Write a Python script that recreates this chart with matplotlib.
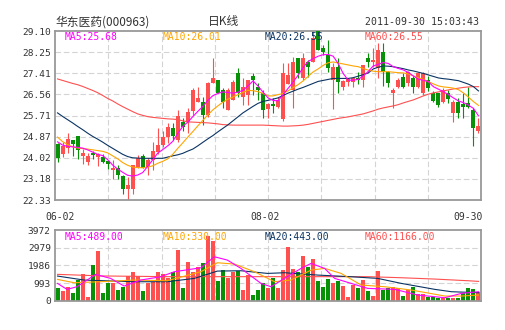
import matplotlib
matplotlib.use("Agg")
import matplotlib.pyplot as plt
import numpy as np

# daily candles 2011-06-02 .. 2011-09-30
opens = [24.59, 24.19, 24.42, 24.73, 24.89, 24.09, 23.86, 24.23, 24.06, 24.06,
         23.90, 23.53, 23.62, 23.30, 22.76, 22.76, 23.66, 24.09, 23.66, 23.93,
         24.26, 24.53, 24.86, 25.22, 24.73, 25.46, 25.46, 25.90, 26.27, 26.27,
         25.73, 27.00, 27.13, 26.73, 25.93, 26.33, 27.40, 26.47, 26.53, 27.31,
         26.84, 26.60, 25.97, 26.17, 26.04, 25.56, 26.97, 26.73, 28.00, 27.20,
         27.87, 27.87, 29.10, 28.40, 28.14, 27.13, 27.64, 26.87, 27.07, 27.07,
         27.20, 27.13, 28.00, 27.87, 27.60, 28.27, 27.47, 26.60, 26.87, 27.27,
         27.00, 27.20, 26.87, 26.60, 27.14, 26.60, 26.60, 26.27, 26.60, 25.80,
         26.27, 26.17, 26.20, 25.93, 25.09]
highs = [24.62, 24.66, 25.00, 24.73, 24.89, 24.39, 24.22, 24.28, 24.22, 24.17,
         23.95, 23.93, 23.72, 23.35, 23.26, 23.75, 24.12, 24.19, 24.00, 24.66,
         25.20, 25.10, 25.40, 25.40, 25.93, 25.60, 26.00, 26.80, 26.87, 26.47,
         27.07, 28.00, 27.13, 26.80, 26.80, 27.13, 27.60, 27.20, 27.13, 27.40,
         27.00, 26.73, 26.20, 26.40, 26.47, 27.80, 27.80, 28.07, 28.00, 28.20,
         27.94, 29.10, 29.10, 28.54, 28.74, 27.80, 28.00, 27.13, 27.20, 27.27,
         27.47, 27.74, 28.20, 28.40, 28.60, 28.60, 27.50, 26.80, 27.20, 27.40,
         27.50, 27.30, 27.45, 27.45, 27.30, 26.70, 26.60, 26.80, 26.75, 26.33,
         26.40, 26.60, 26.87, 26.00, 25.60]
lows = [23.86, 24.06, 24.22, 24.09, 23.99, 23.79, 23.73, 23.99, 23.68, 23.83,
        23.59, 23.19, 23.19, 22.59, 22.33, 22.59, 23.60, 23.60, 23.32, 23.53,
        24.19, 24.45, 24.60, 24.73, 24.66, 25.10, 25.00, 25.73, 26.27, 25.33,
        25.67, 27.00, 26.60, 26.00, 25.93, 26.33, 26.47, 26.13, 26.13, 26.53,
        26.33, 25.60, 25.60, 25.80, 26.00, 25.50, 26.97, 26.00, 27.20, 27.13,
        27.27, 27.87, 28.34, 28.14, 27.47, 25.97, 26.60, 26.73, 26.90, 26.87,
        26.97, 26.87, 27.67, 27.67, 27.20, 26.90, 26.87, 26.00, 26.80, 26.80,
        26.90, 26.60, 26.80, 26.55, 26.70, 26.27, 26.07, 26.20, 26.20, 25.47,
        25.61, 25.60, 26.00, 24.49, 25.00]
closes = [24.02, 24.49, 24.77, 24.57, 24.35, 24.22, 24.09, 24.15, 24.17, 23.86,
          23.79, 23.62, 23.32, 22.76, 22.95, 23.72, 24.02, 23.62, 23.93, 24.30,
          24.55, 24.86, 25.24, 24.89, 25.69, 25.26, 25.86, 26.73, 26.40, 25.73,
          27.00, 27.20, 26.60, 26.27, 26.73, 27.07, 26.60, 26.87, 27.13, 27.13,
          26.73, 25.93, 26.17, 26.09, 26.33, 27.40, 27.33, 27.87, 27.40, 28.00,
          27.64, 28.80, 28.34, 28.27, 27.60, 27.67, 27.07, 27.10, 27.17, 27.20,
          27.13, 27.74, 27.87, 27.94, 28.34, 27.47, 27.00, 26.74, 27.14, 26.87,
          27.47, 26.85, 27.40, 27.40, 26.82, 26.30, 26.13, 26.74, 26.38, 26.27,
          25.83, 26.06, 26.06, 25.20, 25.29]
volumes = [700, 550, 760, 430, 1160, 1510, 210, 2000, 2790, 430,
           1000, 1000, 600, 790, 1360, 1630, 1380, 550, 1020, 1050,
           1630, 1510, 1300, 1630, 2850, 710, 2190, 1640, 1900, 2130,
           3650, 3370, 1110, 1710, 1290, 1610, 1670, 610, 1450, 330,
           610, 1010, 730, 1270, 700, 1700, 3010, 1800, 1590, 2520,
           1890, 2340, 1100, 770, 1220, 1000, 1100, 800, 200, 860,
           710, 1160, 540, 280, 1660, 600, 730, 750, 710, 260,
           580, 790, 370, 390, 200, 200, 170, 150, 150, 170,
           150, 430, 710, 650, 470]

ma5 = [24.66, 24.53, 24.48, 24.46, 24.44, 24.41, 24.34, 24.25, 24.16, 24.11,
       23.95, 23.73, 23.57, 23.44, 23.32, 23.29, 23.33, 23.43, 23.68, 23.94,
       24.21, 24.35, 24.50, 24.68, 25.00, 25.28, 25.45, 25.67, 25.88, 26.08,
       26.32, 26.51, 26.60, 26.66, 26.64, 26.61, 26.65, 26.72, 26.90, 27.10,
       26.90, 26.65, 26.42, 26.32, 26.30, 26.55, 26.80, 27.05, 27.33, 27.63,
       27.88, 27.99, 28.09, 28.15, 28.16, 28.09, 27.80, 27.40, 27.13, 27.13,
       27.16, 27.30, 27.48, 27.70, 27.76, 27.84, 27.80, 27.67, 27.60, 27.54,
       27.44, 27.30, 27.17, 27.13, 27.07, 26.87, 26.77, 26.67, 26.55, 26.42,
       26.30, 26.23, 26.13, 26.00, 25.70]
ma10 = [24.85, 24.67, 24.55, 24.46, 24.41, 24.39, 24.37, 24.34, 24.31, 24.28,
        24.22, 24.10, 23.98, 23.83, 23.72, 23.65, 23.63, 23.62, 23.65, 23.70,
        23.80, 23.88, 23.98, 24.16, 24.40, 24.62, 24.85, 25.07, 25.30, 25.52,
        25.74, 25.94, 26.10, 26.25, 26.37, 26.45, 26.55, 26.64, 26.72, 26.71,
        26.67, 26.60, 26.50, 26.50, 26.55, 26.60, 26.70, 26.83, 26.95, 27.10,
        27.28, 27.46, 27.58, 27.72, 27.83, 27.86, 27.82, 27.78, 27.74, 27.70,
        27.67, 27.60, 27.53, 27.49, 27.47, 27.47, 27.47, 27.45, 27.43, 27.42,
        27.38, 27.30, 27.23, 27.16, 27.07, 26.98, 26.90, 26.86, 26.84, 26.81,
        26.75, 26.62, 26.45, 26.27, 26.12]
ma20 = [25.82, 25.68, 25.55, 25.42, 25.28, 25.15, 25.01, 24.88, 24.77, 24.65,
        24.52, 24.40, 24.28, 24.16, 24.07, 24.02, 24.01, 24.00, 24.00, 24.00,
        24.00, 24.00, 24.05, 24.10, 24.14, 24.20, 24.29, 24.37, 24.50, 24.64,
        24.78, 24.91, 25.06, 25.20, 25.34, 25.50, 25.66, 25.82, 25.95, 26.08,
        26.20, 26.28, 26.32, 26.37, 26.42, 26.52, 26.61, 26.69, 26.77, 26.84,
        26.92, 27.00, 27.08, 27.12, 27.16, 27.20, 27.20, 27.20, 27.20, 27.23,
        27.29, 27.35, 27.42, 27.58, 27.65, 27.70, 27.69, 27.67, 27.63, 27.59,
        27.54, 27.50, 27.45, 27.40, 27.34, 27.28, 27.22, 27.19, 27.17, 27.14,
        27.11, 27.04, 26.97, 26.87, 26.70]
ma60 = [27.18, 27.12, 27.06, 27.00, 26.95, 26.88, 26.80, 26.72, 26.63, 26.52,
        26.40, 26.30, 26.18, 26.07, 25.97, 25.87, 25.78, 25.72, 25.67, 25.64,
        25.62, 25.60, 25.58, 25.57, 25.55, 25.50, 25.46, 25.45, 25.44, 25.43,
        25.42, 25.40, 25.38, 25.35, 25.34, 25.33, 25.33, 25.33, 25.33, 25.33,
        25.33, 25.33, 25.32, 25.31, 25.30, 25.29, 25.29, 25.30, 25.31, 25.33,
        25.36, 25.40, 25.44, 25.48, 25.52, 25.56, 25.60, 25.63, 25.66, 25.70,
        25.74, 25.78, 25.84, 25.90, 25.97, 26.02, 26.06, 26.10, 26.15, 26.22,
        26.28, 26.34, 26.42, 26.50, 26.57, 26.62, 26.66, 26.70, 26.74, 26.78,
        26.81, 26.84, 26.86, 26.87, 26.87]

# volume moving averages, read at (candle index, value) points
vma5_x = [0, 1.9, 3.9, 7.6, 10.6, 13.3, 16.6, 20.6, 23.3, 28.6, 31.3, 33.9, 36.6, 40.6,
          42.6, 45.3, 48.6, 50.6, 53.3, 55.3, 58.6, 61.9, 67.3, 71.9, 77.3, 80.6, 84]
vma5_y = [972, 636, 785, 1477, 1253, 823, 1160, 1346, 1627, 1851, 2468, 2281, 1814, 972,
          785, 1253, 1814, 2094, 1814, 1253, 972, 692, 636, 318, 168, 411, 505]
vma10_x = [0, 3.3, 8.6, 15.3, 21.9, 28.6, 31.9, 35.3, 39.3, 43.3, 46.6, 50.6, 53.3, 56.6,
           60.6, 65.3, 70.6, 77.3, 80.6, 84]
vma10_y = [1197, 1010, 1066, 1160, 1122, 1627, 2132, 2057, 1627, 1066, 1160, 1720, 1814, 1533,
           879, 785, 598, 262, 262, 318]
vma20_x = [0, 5.3, 15.3, 21.9, 27.3, 31.9, 36.6, 41.9, 45.3, 51.9, 58.6, 63.9, 68.6, 75.3, 78.6, 84]
vma20_y = [1384, 1160, 1066, 1066, 1253, 1664, 1683, 1533, 1571, 1440, 1346, 1253, 972, 636, 505, 449]
vma60_x = [0, 9, 22, 42, 55, 61.9, 68.6, 75.3, 81.9, 84]
vma60_y = [1480, 1390, 1350, 1350, 1350, 1350, 1290, 1215, 1122, 1085]

price_ticks = [22.33, 23.18, 24.02, 24.87, 25.71, 26.56, 27.41, 28.25, 29.10]
vol_ticks = [0, 993, 1986, 2979, 3972]
date_labels = ["06-02", "08-02", "09-30"]

RED = "#ff5050"
GREEN = "#079107"
C5, C10, C20, C60 = "#ff00ff", "#ffa500", "#0b3463", "#ff5050"
TXT = "#333333"
MONO = ["DejaVu Sans Mono", "Noto Sans CJK SC"]
LW = 0.8

plt.rcParams["font.family"] = MONO

x = np.arange(len(closes))
colors = [RED if c >= o else GREEN for o, c in zip(opens, closes)]

fig = plt.figure(figsize=(5.05, 3.30), dpi=100)
ax = fig.add_axes([55/505, 130/330, 426/505, 169/330])
vax = fig.add_axes([55/505, 29.3/330, 426/505, 70.7/330])

n = len(closes)
vgrid = [-0.5 + k * n / 8 for k in range(1, 8)]

for a in (ax, vax):
    a.set_xlim(-0.5, n - 0.5)
    a.set_xticks([])
    for s in a.spines.values():
        s.set_color("#999999")
        s.set_linewidth(1.3)
    for g in vgrid:
        a.axvline(g, color="#d4d4d4", lw=LW, ls=(0, (5, 2.5)), zorder=0)
    a.tick_params(axis="y", length=0, pad=3, labelsize=6.8, labelcolor=TXT)

# price panel
ax.set_ylim(price_ticks[0], price_ticks[-1])
ax.set_yticks(price_ticks)
ax.set_yticklabels(["%.2f" % t for t in price_ticks])
for t in price_ticks[1:-1]:
    ax.axhline(t, color="#d4d4d4", lw=LW, ls=(0, (5, 2.5)), zorder=0)

ax.vlines(x, lows, highs, colors=colors, lw=LW, zorder=2)
bottoms = [min(o, c) for o, c in zip(opens, closes)]
heights = [max(abs(c - o), 0.03) for o, c in zip(opens, closes)]
ax.bar(x, heights, 0.8, bottom=bottoms, color=colors, lw=0, zorder=3)

ax.plot(x, ma60, color=C60, lw=LW, zorder=4)
ax.plot(x, ma20, color=C20, lw=LW, zorder=4)
ax.plot(x, ma10, color=C10, lw=LW, zorder=4)
ax.plot(x, ma5, color=C5, lw=LW, zorder=4)

leg_x = [10/426, 108/426, 210/426, 310/426]
ax.text(leg_x[0], 0.962, "MA5:25.68", color=C5, fontsize=7, transform=ax.transAxes, va="center", zorder=5)
ax.text(leg_x[1], 0.962, "MA10:26.01", color=C10, fontsize=7, transform=ax.transAxes, va="center", zorder=5)
ax.text(leg_x[2], 0.962, "MA20:26.55", color=C20, fontsize=7, transform=ax.transAxes, va="center", zorder=5)
ax.text(leg_x[3], 0.962, "MA60:26.55", color=C60, fontsize=7, transform=ax.transAxes, va="center", zorder=5)

# volume panel
vax.set_ylim(vol_ticks[0], vol_ticks[-1])
vax.set_yticks(vol_ticks)
vax.set_yticklabels([str(t) for t in vol_ticks])
for t in vol_ticks[1:-1]:
    vax.axhline(t, color="#d4d4d4", lw=LW, ls=(0, (5, 2.5)), zorder=0)
vax.bar(x, volumes, 0.8, color=colors, lw=0, zorder=2)
vax.plot(vma60_x, vma60_y, color=C60, lw=LW, zorder=3)
vax.plot(vma20_x, vma20_y, color=C20, lw=LW, zorder=3)
vax.plot(vma10_x, vma10_y, color=C10, lw=LW, zorder=3)
vax.plot(vma5_x, vma5_y, color=C5, lw=LW, zorder=3)

vax.text(leg_x[0], 0.9, "MA5:489.00", color=C5, fontsize=7, transform=vax.transAxes, va="center", zorder=5)
vax.text(leg_x[1], 0.9, "MA10:330.00", color=C10, fontsize=7, transform=vax.transAxes, va="center", zorder=5)
vax.text(leg_x[2], 0.9, "MA20:443.00", color=C20, fontsize=7, transform=vax.transAxes, va="center", zorder=5)
vax.text(leg_x[3], 0.9, "MA60:1166.00", color=C60, fontsize=7, transform=vax.transAxes, va="center", zorder=5)

# dates between the panels
fig.text(60/505, 113/330, date_labels[0], ha="center", va="center", fontsize=7, color=TXT)
fig.text(265/505, 113/330, date_labels[1], ha="center", va="center", fontsize=7, color=TXT)
fig.text(483/505, 113/330, date_labels[2], ha="right", va="center", fontsize=7, color=TXT)

# header
fig.text(55/505, 308/330, "华东医药(000963)", ha="left", va="center", fontsize=8.5, color=TXT,
         family=["Noto Sans CJK SC", "DejaVu Sans"])
fig.text(224/505, 308/330, "日K线", ha="center", va="center", fontsize=8.5, color=TXT,
         family=["Noto Sans CJK SC", "DejaVu Sans"])
fig.text(479/505, 308/330, "2011-09-30 15:03:43", ha="right", va="center", fontsize=7.1, color=TXT)

fig.savefig("out.png", dpi=100, facecolor="white")
